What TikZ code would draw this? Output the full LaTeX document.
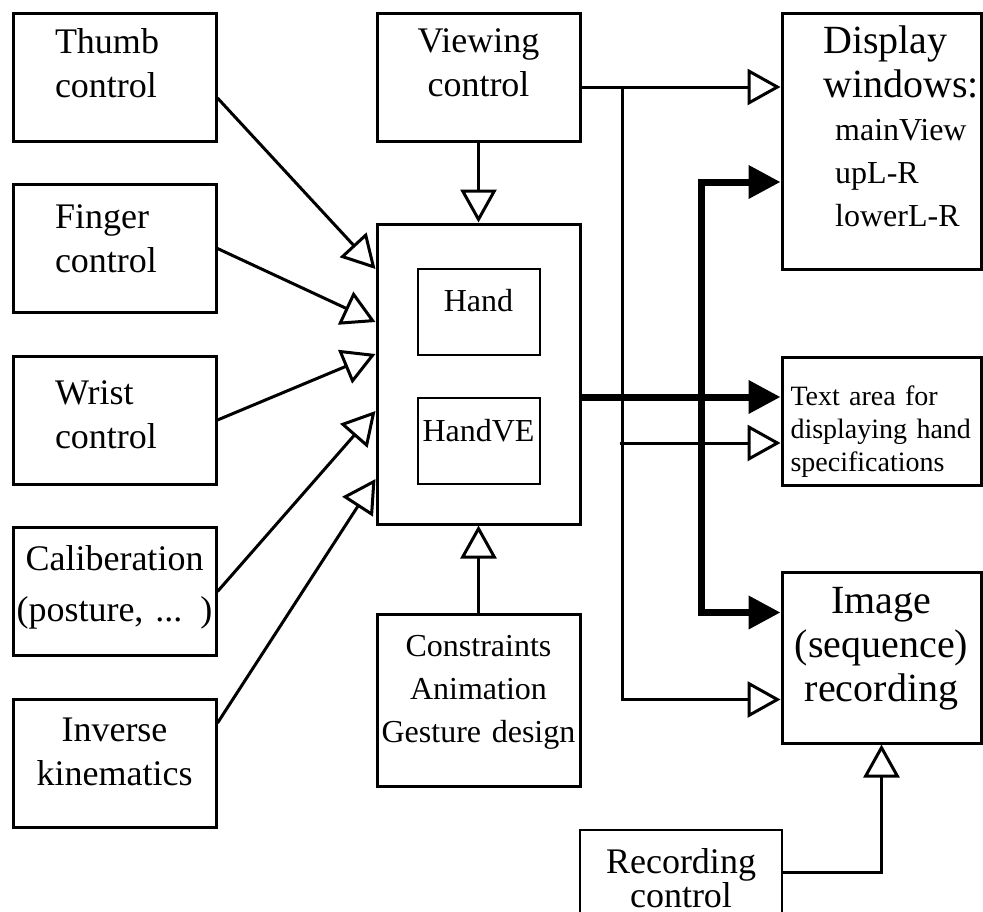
\documentclass[tikz,border=0pt]{standalone}
\usepackage{fontspec}
\setmainfont{Liberation Serif}
\usetikzlibrary{positioning,arrows.meta,calc}

\newcommand{\fsz}[2]{\fontsize{#1}{#2}\selectfont}

\begin{document}
\begin{tikzpicture}[x=1pt, y=-1pt,
    ctrl/.style={draw, line width=3pt, inner sep=0pt, minimum width=203pt,
      minimum height=128pt, align=center, text width=196pt, text height=30pt,
      font=\fsz{36}{44}},
    leftset/.style={align=left, text width=119pt},
    sub/.style={draw, line width=2pt, inner sep=0pt, minimum width=122pt,
      minimum height=86pt, text height=30pt, font=\fsz{32}{38}},
    outbox/.style={draw, line width=3pt, inner sep=0pt, minimum width=199pt,
      align=center, text width=192pt, text height=30pt},
    hollow/.style={line width=3pt, -{Triangle[open, length=33pt, width=36pt]}},
    solidarr/.style={line width=7pt, -{Triangle[length=32pt, width=32pt]}}
  ]
    \useasboundingbox (0,0) rectangle (983,911);

    \node[ctrl, leftset, text depth=78pt] (thumb) at (114.5,77) {Thumb\\control};
    \node[ctrl, leftset, text depth=71pt, below=40.5pt of thumb] (finger) {Finger\\control};
    \node[ctrl, leftset, text depth=62pt, below=40.5pt of finger] (wrist) {Wrist\\control};
    \node[ctrl, text depth=72pt, below=40.5pt of wrist] (calib) {Caliberation\\[7pt](posture, ... )};
    \node[ctrl, text depth=74pt, below=40.5pt of calib] (inverse) {Inverse\\kinematics};

    \node[ctrl, text depth=79pt, right=158pt of thumb] (view) {Viewing\\control};
    \node[ctrl, minimum height=300pt, below=80pt of view] (core) {};
    \node[sub, text depth=32pt] (hand) at ($(core)+(0,-62)$) {Hand};
    \node[sub, text depth=29pt, below=41pt of hand] (handve) {HandVE};
    \node[ctrl, minimum height=172pt, font=\fsz{32}{43}, text depth=118pt,
      below=87pt of core] (cons) {Constraints\\Animation\\Gesture design};

    \node[outbox, minimum height=256pt] (display) at (881.5,141) {};
    \node[anchor=north west, inner sep=0pt, text height=30pt, align=left, text width=160pt,
      font=\fsz{40}{44}] (disptitle) at ($(display.north west)+(42.5,11.5)$) {Display\\windows:};
    \node[anchor=north west, inner sep=0pt, text height=24pt, align=left, text width=140pt,
      font=\fsz{32}{43}] (displist) at ($(display.north west)+(54.5,104.5)$) {mainView\\upL-R\\lowerL-R};
    \node[outbox, minimum height=128pt, align=left, text width=182pt, text depth=62pt,
      font=\fsz{28}{33}] (textarea) at (881.5,421) {Text area for\\displaying hand\\specifications};
    \node[outbox, minimum height=171pt, text depth=119pt, font=\fsz{40}{44}] (image)
      at (881.5,657.5) {Image\\(sequence)\\recording};
    \node[ctrl, line width=2.2pt, minimum width=202pt, text depth=72pt] (rec)
      at (681,894) {Recording\\[-10pt]control};

    \draw[hollow] ($(thumb.east)+(0,21)$) -- ($(core.west)+(0,-105)$);
    \draw[hollow] (finger.east) -- ($(core.west)+(0,-52)$);
    \draw[hollow] (wrist.east) -- ($(core.west)+(0,-20)$);
    \draw[hollow] (calib.east) -- ($(core.west)+(0,37)$);
    \draw[hollow] ($(inverse.east)+(0,-40)$) -- ($(core.west)+(0,105)$);
    \draw[hollow] (view.south) -- (core.north);
    \draw[hollow] (cons.north) -- (core.south);

    \draw[hollow] ($(view.east)+(0,10)$) coordinate (vout) -- (vout -| display.west);
    \coordinate (vbus) at ($(vout)+(41,0)$);
    \draw[hollow] (vbus) |- ($(image.west)+(0,42)$);
    \coordinate (tin) at ($(textarea.west)+(0,22)$);
    \draw[hollow] ($(vbus |- tin)+(-3,0)$) -- (tin);

    \draw[solidarr] ($(core.east)+(0,23)$) coordinate (hout) -- (hout -| textarea.west);
    \coordinate (hbus) at ($(hout)+(120,0)$);
    \draw[solidarr] (hbus) |- ($(display.west)+(0,41)$);
    \draw[solidarr] (hbus) |- ($(image.west)+(0,-45)$);

    \draw[hollow] ($(rec.east)+(0,-22)$) -| (image.south);
  \end{tikzpicture}
\end{document}
